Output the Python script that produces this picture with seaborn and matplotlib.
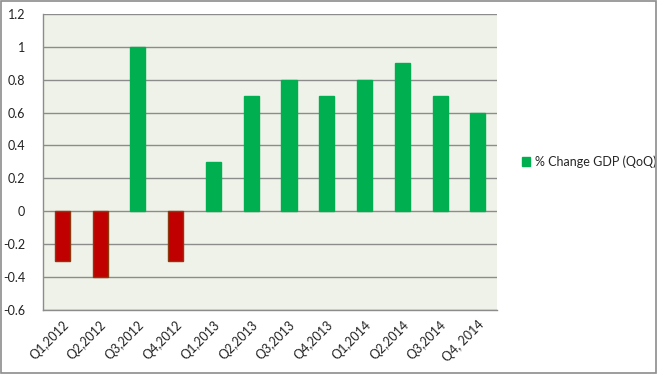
import matplotlib
matplotlib.use("Agg")
import matplotlib.pyplot as plt
from matplotlib.patches import Patch, Rectangle
import seaborn as sns

quarters = ["Q1,2012", "Q2,2012", "Q3,2012", "Q4,2012", "Q1,2013", "Q2,2013",
            "Q3,2013", "Q4,2013", "Q1,2014", "Q2,2014", "Q3,2014", "Q4, 2014"]
gdp_change = [-0.3, -0.4, 1.0, -0.3, 0.3, 0.7, 0.8, 0.7, 0.8, 0.9, 0.7, 0.6]
series_name = "% Change GDP (QoQ)"

green = "#00B050"
red = "#C00000"
colors = [green if v >= 0 else red for v in gdp_change]
edges = [green if v >= 0 else "#8B3A0F" for v in gdp_change]

sns.set_style("white")
plt.rcParams["font.family"] = ["Lato", "DejaVu Sans"]

fig = plt.figure(figsize=(6.58, 3.74), dpi=100)
ax = fig.add_axes([0.066, 0.171, 0.689, 0.792])
ax.set_facecolor("#EFF2E8")

sns.barplot(x=quarters, y=gdp_change, hue=quarters, palette=colors,
            legend=False, width=0.4, saturation=1, ax=ax, zorder=3)
for patch, ec in zip(ax.patches, edges):
    patch.set_edgecolor(ec)
    patch.set_linewidth(1.0)

ax.set_ylim(-0.6, 1.2)
ax.set_xlim(-0.5, len(quarters) - 0.5)
ax.set_yticks([-0.6, -0.4, -0.2, 0, 0.2, 0.4, 0.6, 0.8, 1, 1.2])
ax.set_yticklabels(["-0.6", "-0.4", "-0.2", "0", "0.2", "0.4", "0.6", "0.8", "1", "1.2"])
ax.yaxis.grid(True, color="#8C8C8C", linewidth=1, zorder=0)
ax.set_axisbelow(True)
ax.tick_params(axis="y", length=0, labelsize=9, colors="#222222", pad=13)
ax.tick_params(axis="x", length=0, labelsize=9, colors="#222222", pad=6)
plt.setp(ax.get_xticklabels(), rotation=45, ha="right", rotation_mode="anchor")

for s in ["top", "right"]:
    ax.spines[s].set_visible(False)
for s in ["left", "bottom"]:
    ax.spines[s].set_color("#8C8C8C")
    ax.spines[s].set_linewidth(1)

ax.legend(handles=[Patch(facecolor=green, edgecolor=green, label=series_name)],
          loc="center left", bbox_to_anchor=(1.03, 0.5), frameon=False,
          fontsize=9, handlelength=0.7, handleheight=0.7, handletextpad=0.4)

fig.patches.append(Rectangle((0.002, 0.003), 0.995, 0.994, transform=fig.transFigure,
                             fill=False, edgecolor="#8C8C8C", linewidth=1.2))

fig.savefig("out.png", dpi=100)
